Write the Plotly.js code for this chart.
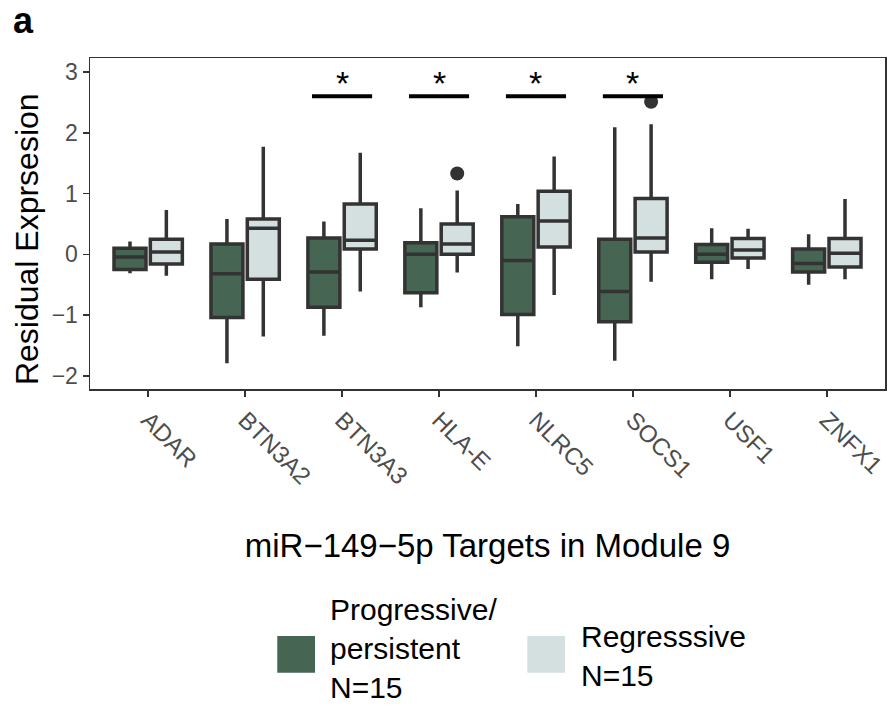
<!DOCTYPE html>
<html><head><meta charset="utf-8">
<script src="https://cdn.plot.ly/plotly-3.0.1.min.js"></script>
<style>body{margin:0;background:#fff}#chart{width:888px;height:719px}</style>
</head><body><div id="chart"></div>
<script>
const genes = ['ADAR','BTN3A2','BTN3A3','HLA-E','NLRC5','SOCS1','USF1','ZNFX1'];
// Progressive/persistent (N=15)
const progLower  = [-0.31,-1.79,-1.34,-0.87,-1.51,-1.75,-0.41,-0.50];
const progQ1     = [-0.25,-1.04,-0.87,-0.63,-0.99,-1.11,-0.13,-0.29];
const progMedian = [-0.045,-0.32,-0.29,0.00,-0.10,-0.61,0.00,-0.15];
const progQ3     = [0.10,0.17,0.27,0.19,0.62,0.25,0.16,0.09];
const progUpper  = [0.21,0.58,0.54,0.76,0.83,2.09,0.43,0.33];
// Regresssive (N=15)
const regLower  = [-0.35,-1.35,-0.61,-0.30,-0.67,-0.45,-0.24,-0.41];
const regQ1     = [-0.16,-0.41,0.09,0.00,0.12,0.04,-0.06,-0.21];
const regMedian = [0.04,0.43,0.23,0.17,0.55,0.27,0.07,0.02];
const regQ3     = [0.25,0.58,0.83,0.50,1.04,0.92,0.26,0.26];
const regUpper  = [0.73,1.77,1.67,1.05,1.61,2.14,0.42,0.91];
const regOutlierGenes  = ['HLA-E','SOCS1'];
const regOutlierValues = [1.33,2.51];
// significance markers
const sigGenes = ['BTN3A3','HLA-E','NLRC5','SOCS1'];
const sigLevel = 2.6;
const sigLabel = '*';
const yTicks = [-2,-1,0,1,2,3];
const legendLabels = ['Progressive/<br>persistent<br>N=15','Regresssive<br>N=15'];

const darkFill = '#466552';
const lightFill = '#d4dfdf';
const lineCol = '#333333';
const FONT = 'Liberation Sans, Arial, Helvetica, sans-serif';

const groupWidth = 0.75;          // fraction of category used by the pair
const slot = groupWidth / 2;

function boxTrace(name, lo, q1, med, q3, hi, fill) {
  return {
    type: 'box', name: name, x: genes,
    lowerfence: lo, q1: q1, median: med, q3: q3, upperfence: hi,
    fillcolor: fill, line: {color: lineCol, width: 3.5},
    whiskerwidth: 0, boxpoints: false, hoverinfo: 'y'
  };
}

const traces = [
  boxTrace('Progressive/persistent', progLower, progQ1, progMedian, progQ3, progUpper, darkFill),
  boxTrace('Regresssive', regLower, regQ1, regMedian, regQ3, regUpper, lightFill),
  {
    type: 'scatter', mode: 'markers', xaxis: 'x2', yaxis: 'y',
    x: regOutlierGenes.map(g => genes.indexOf(g) + slot / 2),
    y: regOutlierValues,
    marker: {color: lineCol, size: 14}, hoverinfo: 'y', showlegend: false
  }
];

const shapes = sigGenes.map(g => {
  const i = genes.indexOf(g);
  return {type: 'line', xref: 'x2', yref: 'y', x0: i - 0.31, x1: i + 0.31,
          y0: sigLevel, y1: sigLevel, line: {color: '#000', width: 4}};
});
const annotations = sigGenes.map(g => ({
  xref: 'x2', yref: 'y', x: genes.indexOf(g), y: sigLevel - 0.12,
  text: sigLabel, showarrow: false, yanchor: 'bottom',
  font: {family: FONT, size: 34, color: '#000'}
}));

// panel tag
annotations.push({xref: 'paper', yref: 'paper', x: -0.1, y: 1.114, xanchor: 'left', yanchor: 'middle',
  text: '<b>a</b>', showarrow: false, font: {family: 'Liberation Sans, Arial, sans-serif', size: 36, color: '#000'}});

// y-axis title
annotations.push({xref: 'paper', yref: 'paper', x: -0.0792, y: 0.453, xanchor: 'center', yanchor: 'middle',
  textangle: -90, text: 'Residual Exprsesion', showarrow: false,
  font: {family: FONT, size: 32, color: '#000'}});

// manual legend (large square keys)
const legendKeys = [
  {x0: 0.2356, x1: 0.2830, fill: darkFill, tx: 0.2994, ty: -0.7825, label: legendLabels[0]},
  {x0: 0.5501, x1: 0.5975, fill: lightFill, tx: 0.6155, ty: -0.8067, label: legendLabels[1]}
];
legendKeys.forEach(k => {
  shapes.push({type: 'rect', xref: 'paper', yref: 'paper', x0: k.x0, x1: k.x1,
    y0: -0.8571, y1: -0.7462, fillcolor: k.fill, line: {width: 0}});
  annotations.push({xref: 'paper', yref: 'paper', x: k.tx, y: k.ty, xanchor: 'left', yanchor: 'middle',
    align: 'left', text: k.label, showarrow: false, font: {family: FONT, size: 30, color: '#000'}});
});

const axisCommon = {
  showline: true, mirror: true, linecolor: lineCol, linewidth: 1.5,
  ticks: 'outside', ticklen: 6, tickwidth: 1.5, tickcolor: lineCol,
  tickfont: {family: FONT, size: 24, color: '#4d4d4d'},
  showgrid: false, zeroline: false
};

const layout = {
  width: 888, height: 719,
  margin: {l: 90, r: 3, t: 58, b: 330},
  paper_bgcolor: '#fff', plot_bgcolor: '#fff',
  font: {family: FONT},
  boxmode: 'group', boxgap: 1 - groupWidth, boxgroupgap: 0.12,
  showlegend: false,
  xaxis: Object.assign({}, axisCommon, {
    type: 'category', categoryorder: 'array', categoryarray: genes,
    range: [-0.6, genes.length - 0.4], tickangle: 45,
    title: {text: 'miR−149−5p Targets in Module 9', font: {family: FONT, size: 33, color: '#000'}, standoff: 45}
  }),
  xaxis2: {overlaying: 'x', anchor: 'y', range: [-0.6, genes.length - 0.4], visible: false},
  yaxis: Object.assign({}, axisCommon, {
    range: [-2.215, 3.23], tickvals: yTicks, tickfont: {family: FONT, size: 23, color: '#4d4d4d'}
  }),
  shapes: shapes, annotations: annotations
};

Plotly.newPlot('chart', traces, layout, {displayModeBar: false, staticPlot: true});
</script>
</body></html>
